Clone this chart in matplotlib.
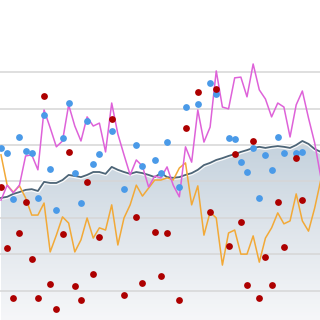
import numpy as np
import matplotlib
matplotlib.use('Agg')
import matplotlib.pyplot as plt
from matplotlib.colors import LinearSegmentedColormap

nan = np.nan

# one value per step along the x axis (53 steps visible)
area_vals = [35.5, 35.8, 36.6, 37.1, 37.7, 37.9, 37.4, 39.9, 39.6, 39.6,
             40.4, 41.8, 41.5, 41.2, 41.8, 42.6, 42.6, 42.1, 44.0, 43.2,
             42.6, 42.1, 42.6, 42.3, 41.8, 41.2, 42.3, 41.2, 41.0, 41.2,
             41.8, 42.3, 43.2, 44.5, 45.1, 45.9, 46.4, 47.0, 47.5, 48.1,
             48.6, 49.2, 49.5, 49.2, 49.5, 49.7, 49.5, 49.2, 50.0, 51.1,
             50.3, 48.9, 48.1]

magenta_vals = [34.9, 39.0, 36.9, 39.0, 47.0, 47.3, 43.2, 59.6, 54.7, 49.5,
                51.1, 61.0, 55.2, 51.1, 57.7, 55.2, 56.0, 48.1, 61.5, 53.0,
                47.3, 41.8, 45.9, 44.2, 38.5, 41.5, 41.0, 44.0, 39.0, 35.8,
                49.5, 45.3, 59.6, 50.8, 54.9, 70.3, 60.4, 59.9, 68.4, 68.6,
                63.2, 72.2, 65.1, 62.6, 57.7, 61.5, 60.4, 52.2, 61.0, 64.8,
                57.4, 50.6, 41.2]

orange_vals = [47.3, 39.0, 37.1, 38.8, 35.5, 30.8, 30.8, 34.1, 20.7, 25.3,
               30.3, 28.6, 20.7, 24.0, 30.0, 24.5, 27.3, 26.7, 33.6, 22.6,
               30.0, 33.6, 39.0, 36.0, 38.2, 40.4, 40.4, 41.0, 40.4, 43.7,
               45.1, 33.6, 38.8, 25.3, 31.6, 30.0, 17.1, 25.9, 26.7, 20.1,
               20.1, 25.1, 17.9, 24.5, 27.3, 31.4, 28.4, 29.2, 36.6, 29.2,
               26.4, 32.7, 40.4]

blue_vals = [49.2, 47.8, 35.2, 52.2, 48.4, 47.8, 35.5, 58.2, 43.4, 32.2,
             51.9, 61.5, 42.3, 34.1, 56.6, 44.8, 47.5, nan, 53.8, nan,
             37.9, nan, 50.0, 44.2, nan, 45.9, 42.3, 50.8, nan, 38.5,
             60.4, nan, 61.2, nan, 67.0, 64.0, nan, 51.9, 51.6, 45.3,
             42.6, 49.2, 35.5, 47.3, 43.2, 52.2, 47.8, nan, 47.8, 48.1,
             nan, nan, nan]

red_vals = [38.5, 21.8, 8.1, 25.9, 34.4, 18.8, 8.1, 63.4, 11.9, 5.1,
            25.6, 48.1, 11.4, 7.5, 39.9, 14.7, 24.8, nan, 57.1, nan,
            8.9, nan, 30.3, 12.2, nan, 26.2, 14.1, 25.9, nan, 7.5,
            54.7, nan, 64.5, nan, 31.6, 65.3, nan, 22.3, 47.5, 28.9,
            11.6, 51.1, 8.1, 19.3, 11.6, 34.4, 22.1, nan, 46.4, 34.9,
            nan, nan, nan]

grid_vals = [10, 20, 30, 40, 50, 60, 70]

x = np.arange(len(area_vals))

fig = plt.figure(figsize=(3.2, 3.2), dpi=100)
ax = fig.add_axes([0, 0, 1, 1])
ax.set_xlim(-0.163, 51.87)
ax.set_ylim(2.05, 89.73)
ax.axis('off')

# gradient-filled area
poly = ax.fill_between(x, 0, area_vals, color='none', lw=0)
cmap = LinearSegmentedColormap.from_list('ar', ['#f6f7f9', '#dfe5eb', '#c2d0dc'])
grad = np.linspace(0, 1, 256).reshape(-1, 1)
img = ax.imshow(grad, cmap=cmap, origin='lower', aspect='auto',
                extent=[-1, 53, 2.05, 52], zorder=1)
img.set_clip_path(poly.get_paths()[0], transform=ax.transData)

for g in grid_vals:
    ax.axhline(g, color='#d6d6d6', lw=1.1, zorder=2)

ax.plot(x, area_vals, color='white', lw=3.2, alpha=0.9, zorder=3)
ax.plot(x, area_vals, color='#4d6577', lw=1.3, zorder=4)

ax.plot(x, orange_vals, color='#f2a937', lw=1.1, zorder=5)
ax.plot(x, magenta_vals, color='#de62d9', lw=1.1, zorder=6)

ax.scatter(x, blue_vals, s=24, color='#4a9ae8', lw=0, zorder=7)
ax.scatter(x, red_vals, s=24, color='#ad0000', lw=0, zorder=8)

fig.savefig('out.png', dpi=100)
